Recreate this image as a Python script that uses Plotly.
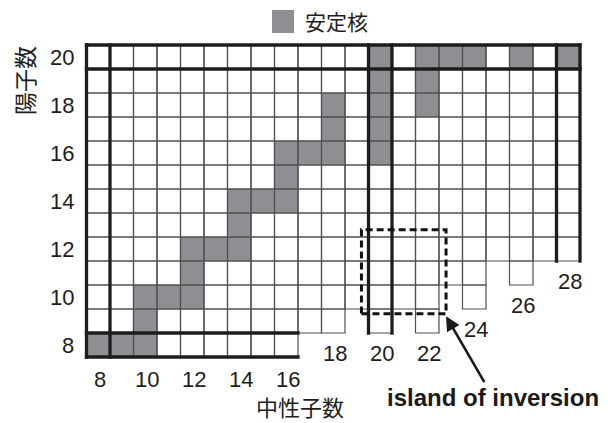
import plotly.graph_objects as go

# Neutron number N of each column and the lowest proton number Z drawn in that column
neutrons = [8, 9, 10, 11, 12, 13, 14, 15, 16, 17, 18, 19, 20, 21, 22, 23, 24, 25, 26, 27, 28]
lowest_z = [8, 8, 8, 8, 8, 8, 8, 8, 8, 9, 9, 10, 9, 10, 9, 11, 10, 12, 11, 12, 12]
top_z = 20

# Stable nuclides, given as (Z, N) pairs
stable_z = [8, 8, 8, 9, 10, 10, 10, 11, 12, 12, 12, 13, 14, 14, 14, 15,
            16, 16, 16, 16, 17, 17, 18, 18, 18, 19, 19, 20, 20, 20, 20, 20, 20]
stable_n = [8, 9, 10, 10, 10, 11, 12, 12, 12, 13, 14, 14, 14, 15, 16, 16,
            16, 17, 18, 20, 18, 20, 18, 20, 22, 20, 22, 20, 22, 23, 24, 26, 28]

magic_numbers = [8, 20, 28]
neutron_ticks = [8, 10, 12, 14, 16, 18, 20, 22, 24, 26, 28]
proton_ticks = [8, 10, 12, 14, 16, 18, 20]

# Island of inversion (N range, Z range)
island_n = [19.2, 22.8]
island_z = [9.3, 12.8]

legend_label = "安定核"
x_title = "中性子数"
y_title = "陽子数"
island_label = "island of inversion"

STABLE_GRAY = "#8e8f92"
THIN = dict(color="#505050", width=1.2)
THICK = dict(color="#1c1c1c", width=3.3)
NUM_FONT = dict(family="Liberation Sans, Arial, sans-serif", size=22, color="#1e1e1e")
CJK = "Noto Sans CJK JP, sans-serif"

W, H = 611, 423
PX_X, PX_Y = 23.5, 24.0          # pixels per nucleus cell
GRID_LEFT, GRID_TOP = 86.5, 45.0  # pixel position of the grid's top-left corner

protons = list(range(min(lowest_z), top_z + 1))
lowest = dict(zip(neutrons, lowest_z))
stable = set(zip(stable_n, stable_z))

# cell values: 1 = stable, 0 = known nucleus, None = not drawn
cells = []
for zz in protons:
    row = []
    for n in neutrons:
        if zz < lowest[n]:
            row.append(None)
        elif (n, zz) in stable:
            row.append(1)
        else:
            row.append(0)
    cells.append(row)

fig = go.Figure(go.Heatmap(
    x=neutrons, y=protons, z=cells,
    colorscale=[[0, "#ffffff"], [1, STABLE_GRAY]], zmin=0, zmax=1,
    showscale=False, hoverinfo="skip",
))

# thin outline of every cell
for n, zlow in zip(neutrons, lowest_z):
    for zz in range(zlow, top_z + 1):
        fig.add_shape(type="rect", x0=n - 0.5, x1=n + 0.5, y0=zz - 0.5, y1=zz + 0.5,
                      line=THIN, layer="above")

# heavy lines bordering the magic-number rows and columns
ex = THICK["width"] / 2 / PX_X
ey = THICK["width"] / 2 / PX_Y
for m in magic_numbers:
    if m in lowest:  # neutron column
        for xv in (m - 0.5, m + 0.5):
            fig.add_shape(type="line", x0=xv, x1=xv,
                          y0=lowest[m] - 0.5 - ey, y1=top_z + 0.5 + ey,
                          line=THICK, layer="above")
    if m in protons:  # proton row
        cols = [n for n in neutrons if lowest[n] <= m]
        for yv in (m - 0.5, m + 0.5):
            fig.add_shape(type="line", x0=min(cols) - 0.5 - ex, x1=max(cols) + 0.5 + ex,
                          y0=yv, y1=yv, line=THICK, layer="above")

# dashed frame round the island of inversion
fig.add_shape(type="rect", x0=island_n[0], x1=island_n[1], y0=island_z[0], y1=island_z[1],
              line=dict(color="#111111", width=3, dash="7px,4px"), layer="above")

# neutron-number labels, set just under the end of each column
for n in neutron_ticks:
    fig.add_annotation(x=n, y=lowest[n] - 0.5, text=str(n), showarrow=False,
                       xanchor="center", yanchor="middle", xshift=2, borderpad=0,
                       yshift=-(22 if lowest[n] == min(lowest_z) else 20), font=NUM_FONT)

# proton-number labels
for zz in proton_ticks:
    fig.add_annotation(x=neutrons[0] - 0.5, y=zz, text=str(zz), showarrow=False,
                       xanchor="right", yanchor="middle", xshift=-11, font=NUM_FONT)

# island of inversion label with its arrow
fig.add_annotation(x=island_n[1], y=island_z[0] - 0.1, text="<b>" + island_label + "</b>",
                   showarrow=True, ax=47, ay=81, arrowhead=2, arrowsize=1.1, arrowwidth=2.6,
                   arrowcolor="#1a1a1a", standoff=0,
                   font=dict(family="Liberation Sans, Arial, sans-serif", size=24, color="#1a1a1a"))


def px(x, y):
    return x / W, 1 - y / H


# axis titles
tx, ty = px(300, 423)
fig.add_annotation(xref="paper", yref="paper", x=tx, y=ty, text=x_title, showarrow=False,
                   xanchor="center", yanchor="bottom", borderpad=0,
                   font=dict(family=CJK, size=22, color="#1e1e1e"))
tx, ty = px(24, 81)
fig.add_annotation(xref="paper", yref="paper", x=tx, y=ty, text=y_title, showarrow=False,
                   textangle=-90, xanchor="center", yanchor="middle",
                   font=dict(family=CJK, size=23, color="#1e1e1e"))

# legend key
lx0, ly0 = px(272, 33)
lx1, ly1 = px(294, 10)
fig.add_shape(type="rect", xref="paper", yref="paper", x0=lx0, x1=lx1, y0=ly0, y1=ly1,
              fillcolor=STABLE_GRAY, line=dict(width=0))
tx, ty = px(336, 21)
fig.add_annotation(xref="paper", yref="paper", x=tx, y=ty, text=legend_label, showarrow=False,
                   xanchor="center", yanchor="middle",
                   font=dict(family=CJK, size=21, color="#1e1e1e"))

# axes span the whole page so cells land on a fixed pixel grid
x_min = neutrons[0] - 0.5 - GRID_LEFT / PX_X
x_max = x_min + W / PX_X
y_max = top_z + 0.5 + GRID_TOP / PX_Y
y_min = y_max - H / PX_Y

fig.update_layout(
    width=W, height=H, autosize=False,
    margin=dict(l=0, r=0, t=0, b=0),
    paper_bgcolor="white", plot_bgcolor="white",
    xaxis=dict(range=[x_min, x_max], visible=False, fixedrange=True),
    yaxis=dict(range=[y_min, y_max], visible=False, fixedrange=True),
    showlegend=False,
)

fig.write_html("out.html")
